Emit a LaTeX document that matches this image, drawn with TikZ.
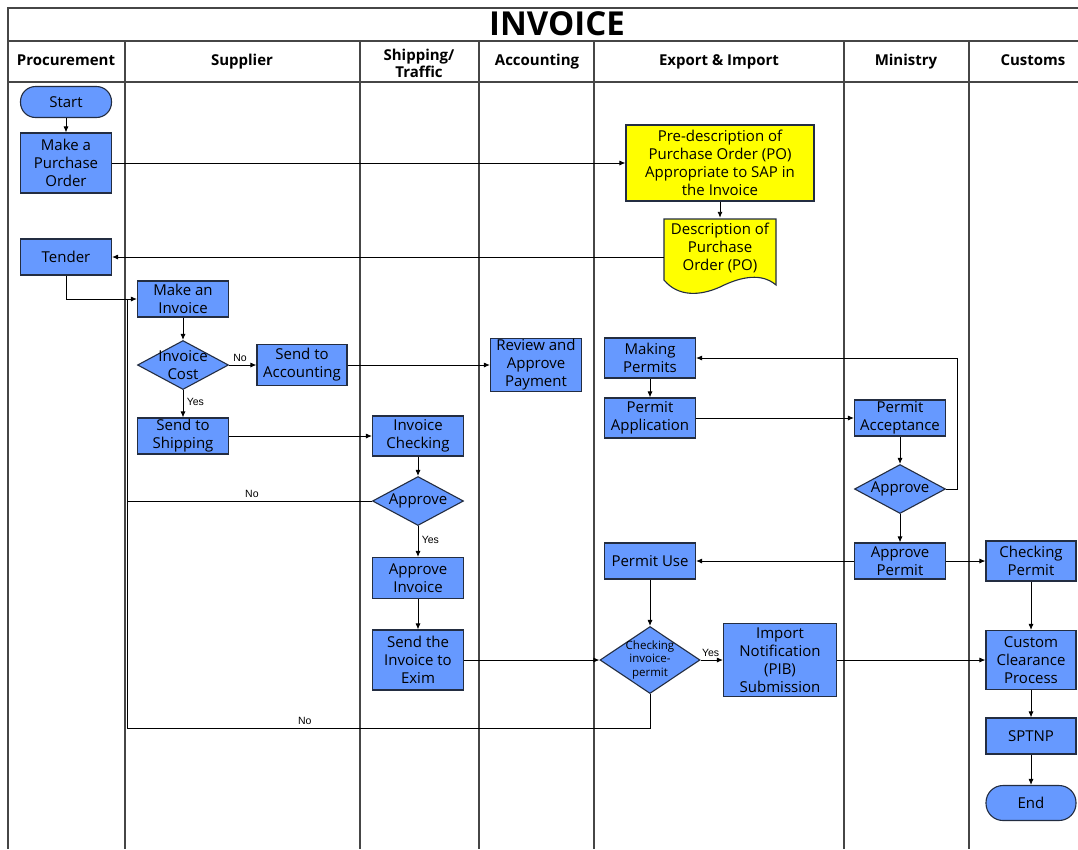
\documentclass[tikz,border=0pt]{standalone}
\usepackage{fontspec}
\setmainfont{Open Sans}
\newfontfamily\lblfont{Liberation Sans}
\usetikzlibrary{shapes.geometric,arrows.meta}
\definecolor{boxblue}{RGB}{102,153,255}
\definecolor{boxedge}{RGB}{35,45,65}
\definecolor{lanegray}{RGB}{70,70,70}
\definecolor{docyellow}{RGB}{255,255,0}
\begin{document}
\begin{tikzpicture}[x=1pt,y=-1pt,
  lane/.style={draw=lanegray, line width=1.3pt},
  proc/.style={draw=boxedge, fill=boxblue, line width=1.1pt, align=center, inner sep=0pt,
               font=\fontsize{15}{18}\selectfont},
  term/.style={proc, rounded corners=15pt},
  dec/.style={diamond, draw=boxedge, fill=boxblue, line width=1.1pt, inner sep=0pt, aspect=1.85},
  dectext/.style={font=\fontsize{15}{18}\selectfont, align=center},
  yel/.style={proc, fill=docyellow},
  hdr/.style={font=\bfseries\fontsize{15}{17}\selectfont, align=center},
  arr/.style={draw=black, line width=0.9pt, -{Latex[length=6pt,width=5pt]}},
  ln/.style={draw=black, line width=0.9pt},
  yn/.style={font=\lblfont\fontsize{10.5}{12}\selectfont}
]
\useasboundingbox (0,0) rectangle (1078,849);
\fill[white] (0,0) rectangle (1078,849);

% frame and lanes
\draw[lane] (1078,8) -- (8,8) -- (8,849);
\draw[lane] (8,41) -- (1078,41);
\draw[lane] (8,82) -- (1078,82);
\foreach \x in {125,360,479,594,844,969} \draw[lane] (\x,41) -- (\x,849);

\node[font=\bfseries\fontsize{33}{36}\selectfont] (title) at (557,24) {INVOICE};
\node[hdr, anchor=base] (h1) at (66,65) {Procurement};
\node[hdr, anchor=base] (h2) at (242,65) {Supplier};
\node[hdr] (h3) at (419,63) {Shipping/\\Traffic};
\node[hdr, anchor=base] (h4) at (537,65) {Accounting};
\node[hdr, anchor=base] (h5) at (719,65) {Export \& Import};
\node[hdr, anchor=base] (h6) at (906,65) {Ministry};
\node[hdr, anchor=base] (h7) at (1033,65) {Customs};

% Procurement
\node[term, minimum width=91pt, minimum height=31pt] (start) at (66,102) {Start};
\node[proc, minimum width=91pt, minimum height=60pt] (mpo) at (66,163) {Make a\\Purchase\\Order};
\node[proc, minimum width=91pt, minimum height=36pt] (tender) at (66,257) {Tender};

% Supplier
\node[proc, minimum width=91pt, minimum height=36pt] (minv) at (183,299) {Make an\\Invoice};
\node[dec, minimum width=91pt, minimum height=49pt, label={[dectext]center:Invoice\\Cost}] (icost) at (183,365) {};
\node[proc, minimum width=90pt, minimum height=41pt] (sacc) at (302,365) {Send to\\Accounting};
\node[proc, minimum width=91pt, minimum height=36pt] (sship) at (183,436) {Send to\\Shipping};

% Accounting
\node[proc, minimum width=91pt, minimum height=53pt] (review) at (536,365) {Review and\\Approve\\Payment};

% Shipping
\node[proc, minimum width=91pt, minimum height=40pt] (icheck) at (418,436) {Invoice\\Checking};
\node[dec, minimum width=91pt, minimum height=49pt, label={[dectext]center:Approve}] (appr1) at (418,501) {};
\node[proc, minimum width=91pt, minimum height=41pt] (ainv) at (418,578) {Approve\\Invoice};
\node[proc, minimum width=91pt, minimum height=60pt] (sinv) at (418,660) {Send the\\Invoice to\\Exim};

% Export & Import
\node[yel, minimum width=188pt, minimum height=76pt] (pre) at (720,163) {Pre-description of\\Purchase Order (PO)\\Appropriate to SAP in\\the Invoice};
\fill[docyellow, draw=boxedge, line width=1.1pt] (664,219) -- (776,219) -- (776,285)
   .. controls (762,273) and (742,276) .. (720,287)
   .. controls (700,296) and (678,297) .. (664,280) -- cycle;
\node[align=center, inner sep=0pt, font=\fontsize{15}{18}\selectfont, minimum width=112pt, minimum height=60pt] (desc) at (720,248) {Description of\\Purchase\\Order (PO)};
\node[proc, minimum width=91pt, minimum height=40pt] (mperm) at (650,358) {Making\\Permits};
\node[proc, minimum width=91pt, minimum height=40pt] (papp) at (650,418) {Permit\\Application};
\node[proc, minimum width=91pt, minimum height=36pt] (puse) at (650,561) {Permit Use};
\node[dec, minimum width=100pt, minimum height=67pt, label={[font=\fontsize{11.5}{14}\selectfont, align=center]center:Checking\\invoice-\\permit}] (chk) at (650,660) {};
\node[proc, minimum width=113pt, minimum height=73pt] (pib) at (780,660) {Import\\Notification\\(PIB)\\Submission};

% Ministry
\node[proc, minimum width=91pt, minimum height=36pt] (pacc) at (900,418) {Permit\\Acceptance};
\node[dec, minimum width=91pt, minimum height=49pt, label={[dectext]center:Approve}] (appr2) at (900,489) {};
\node[proc, minimum width=91pt, minimum height=36pt] (aperm) at (900,561) {Approve\\Permit};

% Customs
\node[proc, minimum width=90pt, minimum height=40pt] (cperm) at (1031,561) {Checking\\Permit};
\node[proc, minimum width=90pt, minimum height=59pt] (ccp) at (1031,660) {Custom\\Clearance\\Process};
\node[proc, minimum width=90pt, minimum height=36pt] (sptnp) at (1031,736) {SPTNP};
\node[term, minimum width=90pt, minimum height=35pt, rounded corners=17pt] (end) at (1031,803) {End};

\coordinate (fbtop) at (127,299);
\coordinate (fbbot) at (127,728);
\coordinate (loop) at (957,358);

% connectors
\draw[arr] (start) -- (mpo);
\draw[arr] (mpo.east) -- (pre.west);
\draw[arr] (pre.south) -- (pre.south |- desc.north);
\draw[arr] (desc.west |- tender.east) -- (tender.east);
\draw[arr] (tender.south) |- (minv.west);
\draw[arr] (minv) -- (icost);
\draw[arr] (icost.east) -- node[yn, above, pos=0.4] (no1) {No} (sacc.west);
\draw[arr] (sacc.east) -- (review.west);
\draw[arr] (icost.south) -- node[yn, right, pos=0.45] (yes1) {Yes} (sship.north);
\draw[arr] (sship.east) -- (icheck.west);
\draw[arr] (icheck) -- (appr1);
\draw[ln] (appr1.west) -- node[yn, above, pos=0.49] (no2) {No} (appr1.west -| fbtop) -- (fbtop);
\draw[arr] (appr1.south) -- node[yn, right, pos=0.45] (yes2) {Yes} (ainv.north);
\draw[arr] (ainv) -- (sinv);
\draw[arr] (sinv.east) -- (chk.west);
\draw[arr] (chk.east) -- node[yn, above, pos=0.45] (yes3) {Yes} (pib.west);
\draw[ln] (chk.south) |- node[yn, above, pos=0.83] (no3) {No} (fbbot) -- (fbtop);
\draw[arr] (pib.east) -- (ccp.west);
\draw[arr] (mperm) -- (papp);
\draw[arr] (papp.east) -- (pacc.west);
\draw[arr] (pacc) -- (appr2);
\draw[arr] (appr2.east) -| (loop) -- (mperm.east);
\draw[arr] (appr2.south) -- (aperm.north);
\draw[arr] (aperm.west) -- (puse.east);
\draw[arr] (aperm.east) -- (cperm.west);
\draw[arr] (puse.south) -- (chk.north);
\draw[arr] (cperm) -- (ccp);
\draw[arr] (ccp) -- (sptnp);
\draw[arr] (sptnp) -- (end);
\end{tikzpicture}
\end{document}
